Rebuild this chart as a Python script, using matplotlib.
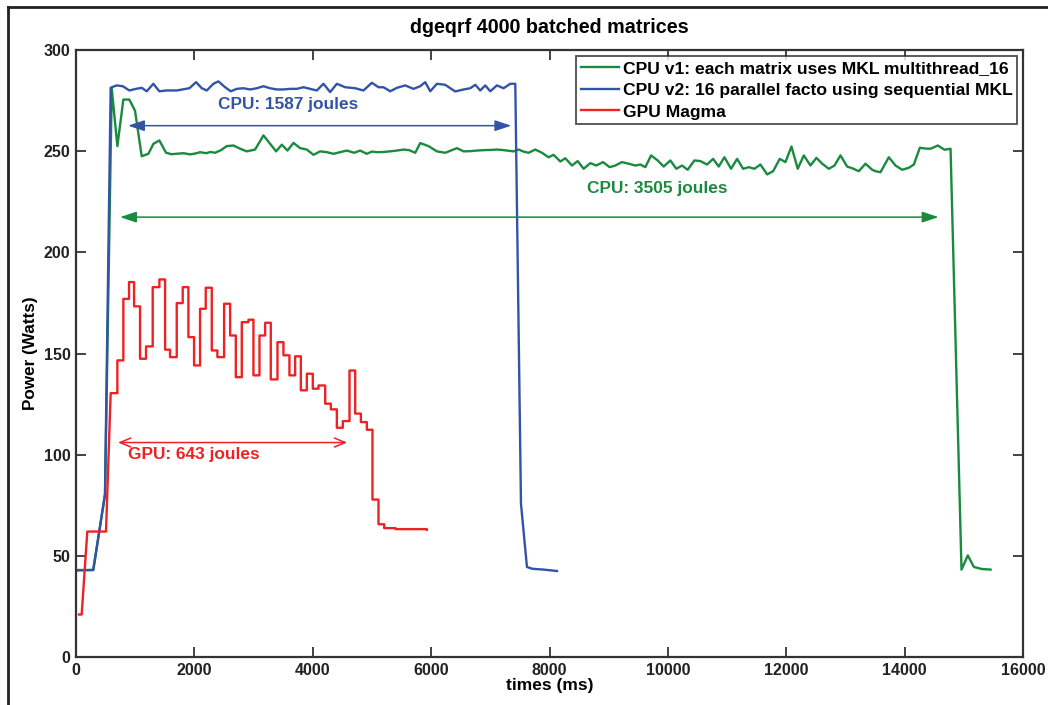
import matplotlib
matplotlib.use("Agg")
import matplotlib.pyplot as plt
from matplotlib.lines import Line2D

plt.rcParams['font.family'] = ['Liberation Sans', 'DejaVu Sans']
plt.rcParams['font.weight'] = 'bold'

# ---------------- data ----------------
# CPU v1 (green): each matrix uses MKL multithread_16
cpu1_t = [0, 290, 490, 604, 699, 800, 901, 997, 1110, 1223, 1307, 1408, 1522, 1612, 1702, 1815,
          1927, 2010, 2096, 2200, 2270, 2350, 2450, 2547, 2660, 2773, 2886, 3026, 3167, 3280, 3381,
          3477, 3573, 3674, 3787, 3900, 4012, 4125, 4238, 4350, 4463, 4576, 4700, 4801, 4914, 5000,
          5083, 5195, 5308, 5420, 5533, 5630, 5731, 5816, 5956, 6098, 6238, 6436, 6548, 6660, 6774,
          6890, 7000, 7112, 7200, 7281, 7393, 7478, 7560, 7647, 7760, 7873, 7985, 8069, 8183, 8267,
          8380, 8476, 8577, 8690, 8791, 8904, 9016, 9112, 9225, 9337, 9450, 9535, 9619, 9716, 9828,
          9929, 10042, 10143, 10240, 10334, 10448, 10549, 10662, 10764, 10859, 10955, 11068, 11169,
          11271, 11366, 11462, 11564, 11677, 11778, 11890, 11986, 12088, 12194, 12296, 12409, 12510,
          12607, 12719, 12815, 12916, 13029, 13120, 13226, 13339, 13452, 13520, 13592, 13733, 13846,
          13959, 14071, 14156, 14257, 14350, 14438, 14561, 14674, 14776, 14961, 15068, 15170, 15300,
          15452]
cpu1_p = [43, 43, 80, 281, 252.5, 275.5, 275.5, 270.0, 247.5, 248.7, 253.6, 255.3, 249.2, 248.5, 248.7, 249.0,
          248.4, 248.8, 249.5, 249.0, 249.6, 249.2, 250.5, 252.5, 252.8, 251.2, 249.9, 250.8, 257.8, 253.6, 249.9,
          253.2, 250.3, 254.1, 251.5, 250.8, 248.2, 249.9, 249.5, 248.7, 249.5, 250.3, 249.2, 250.3, 248.7, 249.8,
          249.5, 249.6, 249.9, 250.3, 250.8, 250.5, 249.2, 254.0, 252.5, 249.9, 249.2, 251.5, 249.9, 250.0, 250.3,
          250.5, 250.6, 250.8, 250.6, 250.3, 249.9, 250.8, 249.8, 249.2, 250.8, 249.2, 247.0, 248.2, 244.9, 246.5,
          242.9, 245.1, 241.3, 244.1, 242.9, 244.6, 242.1, 242.9, 244.6, 243.8, 242.9, 243.4, 242.1, 247.9, 245.4,
          242.4, 245.4, 241.3, 242.9, 240.8, 245.4, 245.1, 243.4, 246.2, 242.4, 247.0, 241.3, 246.2,
          241.3, 242.1, 241.3, 243.4, 238.5, 240.1, 246.2, 244.6, 252.3, 241.3, 247.9, 242.9, 246.7,
          243.8, 241.3, 242.9, 247.9, 242.4, 241.5, 240.1, 243.8, 240.8, 240.0, 239.6, 247.0, 242.9,
          240.8, 241.8, 243.4, 251.7, 251.3, 251.2, 252.8, 250.7, 251.2, 43.2, 50.2, 44.5, 43.5,
          43.2]

# CPU v2 (blue): 16 parallel facto using sequential MKL
cpu2_t = [0, 293, 490, 586, 604, 688, 790, 901, 1014, 1111, 1195, 1307, 1408, 1533, 1702, 1915, 2029,
          2125, 2210, 2321, 2406, 2519, 2615, 2717, 2828, 2942, 3055, 3167, 3280, 3393, 3505, 3618,
          3731, 3843, 3956, 4069, 4181, 4294, 4407, 4548, 4717, 4857, 4999, 5111, 5195, 5308, 5422,
          5562, 5702, 5816, 5900, 5985, 6098, 6238, 6407, 6548, 6661, 6746, 6830, 6915, 6999, 7112,
          7224, 7337, 7422, 7518, 7619, 7709, 7900, 8126]
cpu2_p = [42.8, 43, 80.7, 281.3, 281.6, 282.5, 282.1, 280.0, 280.8, 281.3, 279.6, 283.3, 279.6, 280.0, 280.0, 281.1, 284.1,
          281.1, 280.0, 283.3, 284.5, 281.6, 279.6, 280.8, 281.1, 280.5, 281.1, 282.1, 281.1, 280.5, 280.5, 280.8,
          280.8, 281.6, 280.8, 280.0, 283.3, 279.2, 283.3, 281.6, 281.1, 280.0, 283.8, 281.6, 281.6, 279.6, 281.3,
          282.5, 280.8, 282.1, 284.1, 279.6, 283.3, 282.8, 279.5, 280.5, 281.1, 282.8, 280.0, 282.5, 279.6, 282.5,
          281.1, 283.3, 283.3, 75.8, 44.5, 43.6, 43.2, 42.5]

# GPU Magma (red): ramp samples, then step samples (value held until next time)
gpu_ramp_t = [50, 96, 191, 507]
gpu_ramp_p = [21, 21, 62, 62]
gpu_step_t = [586, 699, 800, 896, 981, 1082, 1183, 1296, 1409, 1505, 1589, 1702, 1803, 1899, 1995,
              2096, 2192, 2294, 2389, 2502, 2604, 2700, 2801, 2914, 2998, 3100, 3195, 3291, 3404,
              3505, 3606, 3702, 3799, 3900, 4001, 4097, 4210, 4306, 4407, 4508, 4621, 4717, 4813,
              4914, 5009, 5111, 5207, 5400, 5929]
gpu_step_p = [130.4, 146.6, 177.0, 185.3, 173.3, 147.4, 153.5, 182.8, 186.6, 151.9, 148.2, 174.9, 182.8,
              158.1, 144.1, 172.1, 182.5, 151.5, 148.2, 174.6, 158.9, 138.3, 165.5, 166.7, 139.2, 158.9,
              165.2, 137.2, 155.6, 149.1, 139.2, 148.6, 131.8, 140.0, 132.6, 134.2, 125.2, 122.4, 113.3,
              116.6, 141.6, 120.3, 116.1, 112.3, 77.8, 65.6, 63.7, 63.2, 62.9]

labels = ["CPU v1: each matrix uses MKL multithread_16",
          "CPU v2: 16 parallel facto using sequential MKL",
          "GPU Magma"]

# energy annotations: (text, x_text, y_text, x_start, x_end, y_arrow)
ann_cpu2 = ("CPU: 1587 joules", 3584, 273, 879, 7354, 262.6)
ann_cpu1 = ("CPU: 3505 joules", 9822, 231.5, 744, 14573, 217.4)
ann_gpu = ("GPU: 643 joules", 1995, 100, 710, 4582, 106)

c_green = '#1A8A3E'
c_blue = '#3353A6'
c_red = '#EE2224'

# ---------------- figure ----------------
fig = plt.figure(figsize=(10.48, 7.05), dpi=100)
ax = fig.add_axes([76/1048, 48/705, (1023-76)/1048, (657-50)/705])

# build GPU polyline
gx = list(gpu_ramp_t)
gy = list(gpu_ramp_p)
gx.append(gpu_step_t[0]); gy.append(gpu_step_p[0])
for i in range(1, len(gpu_step_t)):
    gx.append(gpu_step_t[i]); gy.append(gpu_step_p[i-1])
    gx.append(gpu_step_t[i]); gy.append(gpu_step_p[i])

ax.plot(cpu1_t, cpu1_p, color=c_green, lw=1.7, label=labels[0])
ax.plot(cpu2_t, cpu2_p, color=c_blue, lw=1.7, label=labels[1])
ax.plot(gx, gy, color=c_red, lw=1.7, label=labels[2])

ax.set_xlim(0, 16000)
ax.set_ylim(0, 300)
ax.set_xticks(range(0, 16001, 2000))
ax.set_yticks(range(0, 301, 50))
ax.tick_params(direction='in', length=7, width=1.2, top=True, right=True,
               labelsize=11.5, colors='#222222', pad=4)
for lab in ax.get_xticklabels() + ax.get_yticklabels():
    lab.set_fontweight('bold')
for s in ax.spines.values():
    s.set_linewidth(1.6)
    s.set_color('#333333')

ax.set_title("dgeqrf 4000 batched matrices", fontsize=14.2, fontweight='bold', pad=12)
ax.set_xlabel("times (ms)", fontsize=12.5, fontweight='bold', labelpad=0)
ax.set_ylabel("Power (Watts)", fontsize=12.3, fontweight='bold', labelpad=4)

leg = ax.legend(loc='upper right', prop={'weight': 'bold', 'size': 12.6},
                frameon=True, fancybox=False, edgecolor='#222222', borderpad=0.25,
                handlelength=2.2, handletextpad=0.2, labelspacing=0.38,
                borderaxespad=0.35)
leg.get_frame().set_linewidth(1.3)

def draw_arrow(a, color, style, ms):
    text, xt, yt, x0, x1, ya = a
    ax.annotate('', xy=(x0, ya), xytext=(x1, ya),
                arrowprops=dict(arrowstyle=style, color=color, lw=1.1,
                                mutation_scale=ms, shrinkA=0, shrinkB=0))
    ax.text(xt, yt, text, color=color, fontsize=12.4, fontweight='bold',
            ha='center', va='center')

head = '<|-|>,head_length=0.9,head_width=0.3'
draw_arrow(ann_cpu2, c_blue, head, 11)
draw_arrow(ann_cpu1, c_green, head, 11)
draw_arrow(ann_gpu, c_red, '<->,head_length=0.6,head_width=0.25', 13)

# figure border (left and top)
fig.add_artist(Line2D([8/1048, 8/1048], [0, 1 - 7/705], transform=fig.transFigure,
                      color='#222222', lw=2))
fig.add_artist(Line2D([8/1048, 1], [1 - 7/705, 1 - 7/705], transform=fig.transFigure,
                      color='#222222', lw=2))

fig.savefig("out.png", dpi=100)
